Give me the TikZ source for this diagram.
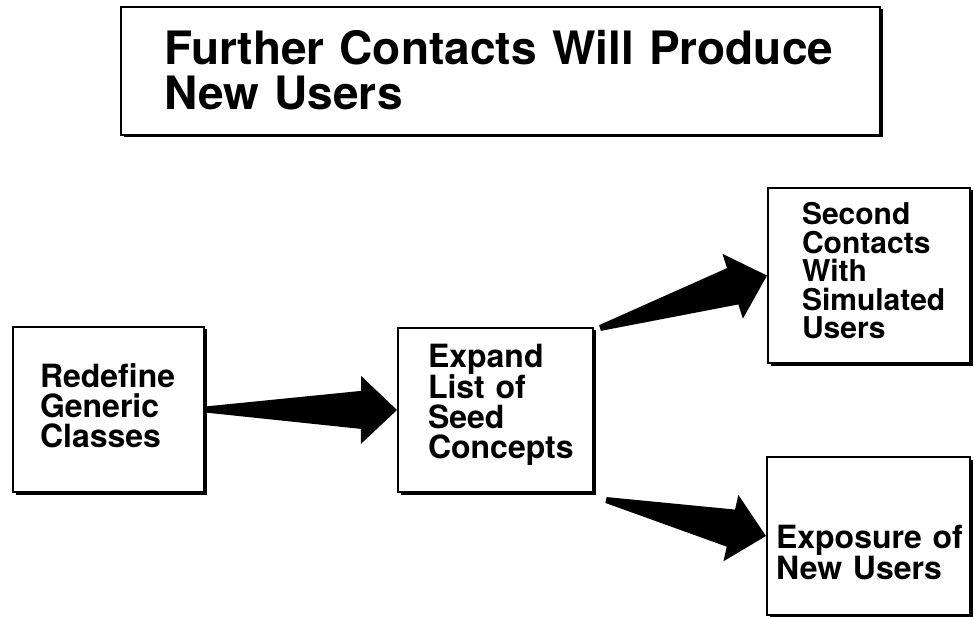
\documentclass[tikz,border=0pt]{standalone}
\usepackage{fontspec}
\setmainfont{TeX Gyre Heros}
\usetikzlibrary{calc,shadows}

\newcommand\bigarrow[2]{%
	\coordinate (hb) at ($(#2)!36pt!(#1)$);
	\fill ($(#1)!3pt!90:(#2)$) -- ($(hb)!19pt!90:(#2)$) -- ($(hb)!34pt!90:(#2)$)
		-- (#2) -- ($(hb)!34pt!-90:(#2)$) -- ($(hb)!19pt!-90:(#2)$)
		-- ($(#1)!3pt!-90:(#2)$) -- cycle;
}

\begin{document}
\begin{tikzpicture}[x=1pt,y=-1pt,
		box node/.style={draw,line width=2pt,fill=white,align=left,inner sep=0pt,
			drop shadow={shadow xshift=2.5pt,shadow yshift=-2.5pt,opacity=1,fill=black},
			font=\bfseries\fontsize{32}{30}\selectfont}]

		\useasboundingbox (0,0) rectangle (974,617);

		\node[box node,minimum width=759pt,minimum height=128pt,text width=673pt,
			text height=33pt,text depth=45pt,font=\bfseries\fontsize{46}{45}\selectfont]
			(title) at (500.5,71) {\mbox{Further\hspace{15pt}Contacts Will Produce}\\New~Users};

		\node[box node,minimum width=191pt,minimum height=165pt,text width=137pt,
			text height=23pt,text depth=68pt] (redef) at (108.5,409.5) {Redefine\\Generic\\Classes};
		\node[box node,minimum width=195pt,minimum height=164pt,text width=135pt,
			text height=23pt,text depth=109pt] (expand) at (495.5,410) {Expand\\List~of\\Seed\\Concepts};
		\node[box node,minimum width=202pt,minimum height=175pt,text width=134pt,
			text height=22pt,text depth=123pt,font=\bfseries\fontsize{30}{28.5}\selectfont]
			(second) at (869,275.5) {Second\\Contacts\\With\\Simulated\\Users};
		\node[box node,minimum width=203pt,minimum height=158pt,text width=185pt,
			text height=51pt,text depth=27pt] (expose) at (868.5,536) {Exposure~of\\New~Users};

		\coordinate (up) at ($(expand.north east)+(6,1)$);
		\coordinate (down) at ($(expand.south east)+(12,7)$);

		\bigarrow{redef.east}{expand.west}
		\bigarrow{up}{second.west}
		\bigarrow{down}{expose.west}
	\end{tikzpicture}
\end{document}
